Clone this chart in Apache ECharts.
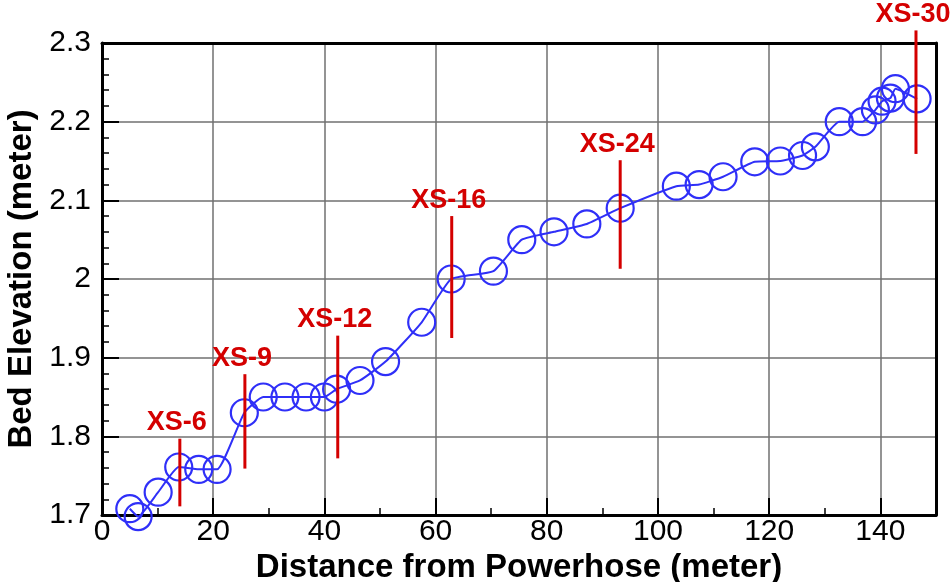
<!DOCTYPE html>
<html>
<head>
<meta charset="utf-8">
<script src="https://cdn.jsdelivr.net/npm/echarts@6/dist/echarts.min.js"></script>
<style>
html,body{margin:0;padding:0;background:#fff;}
#chart{width:952px;height:582px;}
</style>
</head>
<body>
<div id="chart"></div>
<script>
// Measured bed elevation profile
const distance = [5.0, 6.5, 10.1, 13.8, 17.4, 20.7, 25.6, 29.0, 32.9, 36.7, 40.0, 42.2, 46.4, 51.0, 57.5, 62.8, 70.4, 75.5, 81.3, 87.2, 93.2, 103.3, 107.4, 111.7, 117.4, 122.0, 126.0, 128.3, 132.6, 136.8, 139.1, 140.3, 141.8, 142.7, 146.6];
const elevation = [1.708, 1.698, 1.729, 1.761, 1.758, 1.758, 1.830, 1.850, 1.850, 1.850, 1.850, 1.860, 1.871, 1.895, 1.945, 2.000, 2.010, 2.050, 2.060, 2.070, 2.090, 2.118, 2.120, 2.130, 2.149, 2.150, 2.157, 2.168, 2.200, 2.200, 2.215, 2.226, 2.230, 2.242, 2.229];

// Cross-section markers
const xsNames = ['XS-6', 'XS-9', 'XS-12', 'XS-16', 'XS-24', 'XS-30'];
const xsDistance = [14.0, 25.7, 42.4, 62.9, 93.2, 146.4];
const xsTop = [1.797, 1.879, 1.928, 2.080, 2.151, 2.316];
const xsBottom = [1.711, 1.759, 1.772, 1.925, 2.013, 2.159];

const xTitle = 'Distance from Powerhose (meter)';
const yTitle = 'Bed Elevation (meter)';

const FONT = '"Liberation Sans", Arial, Helvetica, sans-serif';
const BLUE = '#2f2ff8';
const RED = '#d40000';

const chart = echarts.init(document.getElementById('chart'), null, {renderer: 'canvas'});

const axisCommon = {
  axisLine: {show: true, onZero: false, lineStyle: {color: '#000', width: 3}},
  axisTick: {show: true, inside: true, length: 17, lineStyle: {color: '#000', width: 2}},
  minorTick: {show: true, length: 7, lineStyle: {color: '#000', width: 1.5}},
  splitLine: {show: true, lineStyle: {color: '#707070', width: 1.5}},
  minorSplitLine: {show: false},
  nameTextStyle: {fontFamily: FONT, fontWeight: 'bold', fontSize: 33, color: '#000'}
};

const frameAxis = {
  axisLine: {show: true, onZero: false, lineStyle: {color: '#000', width: 3}},
  axisTick: {show: false}, axisLabel: {show: false}, splitLine: {show: false}
};

chart.setOption({
  animation: false,
  backgroundColor: '#fff',
  grid: {left: 102, top: 43, right: 16, bottom: 67, containLabel: false, outerBoundsMode: 'none'},
  xAxis: [Object.assign({}, axisCommon, {
    type: 'value',
    min: 0, max: 150, interval: 20,
    minorTick: Object.assign({}, axisCommon.minorTick, {splitNumber: 2}),
    name: xTitle, nameLocation: 'middle', nameGap: 22,
    axisLabel: {fontFamily: FONT, fontSize: 30, color: '#000', margin: 2, showMaxLabel: false,
      formatter: v => (v > 145 ? '' : String(v))}
  }), Object.assign({}, frameAxis, {type: 'value', position: 'top', min: 0, max: 150})],
  yAxis: [Object.assign({}, axisCommon, {
    type: 'value',
    min: 1.7, max: 2.3, interval: 0.1,
    minorTick: Object.assign({}, axisCommon.minorTick, {splitNumber: 5}),
    name: yTitle, nameLocation: 'middle', nameGap: 61,
    axisLabel: {fontFamily: FONT, fontSize: 30, color: '#000', margin: 11}
  }), Object.assign({}, frameAxis, {type: 'value', position: 'right', min: 1.7, max: 2.3})],
  series: [
    {
      type: 'line',
      data: distance.map((d, i) => [d, elevation[i]]),
      smooth: 0.15,
      clip: false,
      symbol: 'circle',
      symbolSize: 27,
      lineStyle: {color: BLUE, width: 2},
      itemStyle: {color: 'rgba(0,0,0,0)', borderColor: BLUE, borderWidth: 2.2},
      z: 3
    },
    {
      type: 'custom',
      clip: false,
      z: 5,
      data: xsDistance.map((d, i) => [d, xsTop[i], xsBottom[i]]),
      renderItem: function (params, api) {
        const x = api.value(0);
        const pTop = api.coord([x, api.value(1)]);
        const pBot = api.coord([x, api.value(2)]);
        return {
          type: 'group',
          children: [
            {type: 'line', shape: {x1: pTop[0], y1: pTop[1], x2: pBot[0], y2: pBot[1]},
             style: {stroke: RED, lineWidth: 3}},
            {type: 'text', x: pTop[0] - 3, y: pTop[1] - 16,
             style: {text: xsNames[params.dataIndex], fill: RED, fontFamily: FONT, fontWeight: 'bold', fontSize: 27,
                     align: 'center', verticalAlign: 'middle'}}
          ]
        };
      }
    }
  ]
});
</script>
</body>
</html>
